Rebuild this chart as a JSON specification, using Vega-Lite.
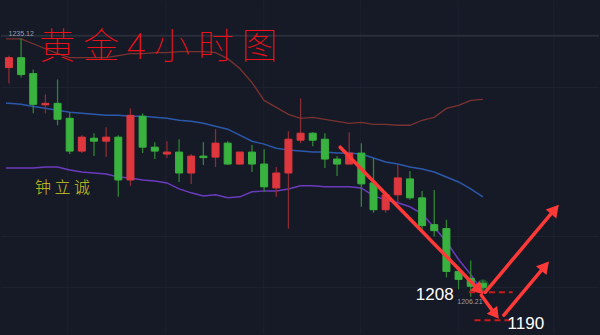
{
  "$schema": "https://vega.github.io/schema/vega-lite/v6.json",
  "width": 600,
  "height": 335,
  "padding": 0,
  "autosize": {"type": "fit", "contains": "padding"},
  "background": "#161a26",
  "view": {"stroke": null},
  "datasets": {
    "candles": [
      {"t":1,"o":1231.84,"h":1233.17,"l":1230.06,"c":1232.95},
      {"t":2,"o":1232.95,"h":1235.12,"l":1230.73,"c":1231.06},
      {"t":3,"o":1231.17,"h":1231.62,"l":1226.72,"c":1227.73},
      {"t":4,"o":1227.67,"h":1228.84,"l":1226.72,"c":1227.84},
      {"t":5,"o":1227.84,"h":1230.51,"l":1225.39,"c":1226.06},
      {"t":6,"o":1226.17,"h":1226.84,"l":1222.17,"c":1222.50},
      {"t":7,"o":1222.50,"h":1224.28,"l":1222.28,"c":1224.06},
      {"t":8,"o":1223.94,"h":1224.50,"l":1221.94,"c":1223.61},
      {"t":9,"o":1223.61,"h":1225.17,"l":1221.83,"c":1224.06},
      {"t":10,"o":1224.06,"h":1224.28,"l":1217.38,"c":1219.27},
      {"t":11,"o":1219.27,"h":1227.28,"l":1218.61,"c":1226.50},
      {"t":12,"o":1226.39,"h":1226.72,"l":1222.28,"c":1222.94},
      {"t":13,"o":1222.94,"h":1223.50,"l":1221.61,"c":1222.50},
      {"t":14,"o":1222.17,"h":1223.61,"l":1221.72,"c":1222.39},
      {"t":15,"o":1222.39,"h":1223.83,"l":1219.05,"c":1220.05},
      {"t":16,"o":1220.05,"h":1222.17,"l":1218.83,"c":1221.94},
      {"t":17,"o":1221.94,"h":1223.50,"l":1220.94,"c":1221.77},
      {"t":18,"o":1221.83,"h":1224.95,"l":1220.72,"c":1223.39},
      {"t":19,"o":1223.39,"h":1223.61,"l":1220.94,"c":1221.05},
      {"t":20,"o":1221.05,"h":1222.39,"l":1220.94,"c":1222.39},
      {"t":21,"o":1222.39,"h":1223.17,"l":1220.16,"c":1221.05},
      {"t":22,"o":1221.05,"h":1222.72,"l":1217.94,"c":1218.50},
      {"t":23,"o":1218.38,"h":1220.72,"l":1217.38,"c":1220.05},
      {"t":24,"o":1220.05,"h":1224.72,"l":1213.83,"c":1223.83},
      {"t":25,"o":1223.72,"h":1228.39,"l":1223.39,"c":1224.50},
      {"t":26,"o":1224.50,"h":1224.61,"l":1223.05,"c":1223.72},
      {"t":27,"o":1223.83,"h":1224.50,"l":1220.61,"c":1221.61},
      {"t":28,"o":1221.61,"h":1221.94,"l":1219.72,"c":1221.05},
      {"t":29,"o":1221.05,"h":1224.61,"l":1221.05,"c":1222.28},
      {"t":30,"o":1222.28,"h":1223.39,"l":1216.27,"c":1218.83},
      {"t":31,"o":1218.94,"h":1221.72,"l":1215.60,"c":1215.94},
      {"t":32,"o":1215.94,"h":1217.83,"l":1215.60,"c":1217.61},
      {"t":33,"o":1217.61,"h":1220.94,"l":1216.72,"c":1219.50},
      {"t":34,"o":1219.39,"h":1220.27,"l":1217.05,"c":1217.27},
      {"t":35,"o":1217.27,"h":1218.05,"l":1213.71,"c":1214.16},
      {"t":36,"o":1214.27,"h":1218.16,"l":1212.94,"c":1213.60},
      {"t":37,"o":1213.83,"h":1214.83,"l":1208.38,"c":1209.04},
      {"t":38,"o":1209.04,"h":1209.60,"l":1207.04,"c":1208.15},
      {"t":39,"o":1208.27,"h":1210.27,"l":1206.21,"c":1207.38},
      {"t":40,"o":1207.71,"h":1208.04,"l":1206.82,"c":1207.26}
    ],
    "bands": [
      {"t":0.76,"u":1235.06,"m":1227.84,"lo":1220.61},
      {"t":1,"u":1235.06,"m":1227.84,"lo":1220.61},
      {"t":2,"u":1235.06,"m":1227.73,"lo":1220.61},
      {"t":3,"u":1234.51,"m":1227.50,"lo":1220.61},
      {"t":4,"u":1233.95,"m":1227.28,"lo":1220.72},
      {"t":5,"u":1233.40,"m":1227.06,"lo":1220.72},
      {"t":6,"u":1232.95,"m":1226.84,"lo":1220.39},
      {"t":7,"u":1232.95,"m":1226.72,"lo":1220.16},
      {"t":8,"u":1232.95,"m":1226.61,"lo":1220.05},
      {"t":9,"u":1232.95,"m":1226.50,"lo":1219.94},
      {"t":10,"u":1233.17,"m":1226.50,"lo":1219.61},
      {"t":11,"u":1233.40,"m":1226.39,"lo":1219.50},
      {"t":12,"u":1233.40,"m":1226.39,"lo":1219.27},
      {"t":13,"u":1233.51,"m":1226.28,"lo":1219.16},
      {"t":14,"u":1233.51,"m":1226.17,"lo":1218.94},
      {"t":15,"u":1233.62,"m":1225.95,"lo":1218.27},
      {"t":16,"u":1233.62,"m":1225.83,"lo":1217.83},
      {"t":17,"u":1233.62,"m":1225.61,"lo":1217.49},
      {"t":18,"u":1233.51,"m":1225.28,"lo":1217.61},
      {"t":19,"u":1232.84,"m":1224.95,"lo":1217.27},
      {"t":20,"u":1231.73,"m":1224.28,"lo":1217.38},
      {"t":21,"u":1230.17,"m":1223.61,"lo":1217.94},
      {"t":22,"u":1228.17,"m":1223.28,"lo":1218.05},
      {"t":23,"u":1227.39,"m":1222.83,"lo":1218.05},
      {"t":24,"u":1226.61,"m":1222.61,"lo":1218.27},
      {"t":25,"u":1226.17,"m":1222.50,"lo":1218.61},
      {"t":26,"u":1226.28,"m":1222.39,"lo":1218.61},
      {"t":27,"u":1226.06,"m":1222.39,"lo":1218.50},
      {"t":28,"u":1225.83,"m":1222.28,"lo":1218.50},
      {"t":29,"u":1225.61,"m":1222.28,"lo":1218.50},
      {"t":30,"u":1225.72,"m":1222.17,"lo":1218.38},
      {"t":31,"u":1225.50,"m":1221.72,"lo":1217.49},
      {"t":32,"u":1225.50,"m":1221.28,"lo":1217.05},
      {"t":33,"u":1225.39,"m":1221.05,"lo":1216.72},
      {"t":34,"u":1225.39,"m":1220.72,"lo":1216.27},
      {"t":35,"u":1225.95,"m":1220.50,"lo":1215.49},
      {"t":36,"u":1226.28,"m":1220.16,"lo":1213.94},
      {"t":37,"u":1227.28,"m":1219.61,"lo":1212.38},
      {"t":38,"u":1227.61,"m":1219.05,"lo":1210.38},
      {"t":39,"u":1228.17,"m":1218.27,"lo":1208.71},
      {"t":40,"u":1228.28,"m":1217.38,"lo":1206.71}
    ],
    "gridx": [{"t":5.84},{"t":13.90},{"t":21.97},{"t":29.95},{"t":38.02},{"t":45.84}],
    "gridy": [{"p":1229.62},{"p":1212.94},{"p":1207.26}],
    "topline": [{"p":1235.40}],
    "arrows": [
      {"a":"a1","k":0,"t":28.26,"p":1222.94},
      {"a":"a1","k":1,"t":39.55,"p":1207.15},
      {"a":"a2","k":0,"t":40.19,"p":1206.71},
      {"a":"a2","k":1,"t":45.76,"p":1215.72},
      {"a":"a3","k":0,"t":39.87,"p":1206.37},
      {"a":"a3","k":1,"t":41.0,"p":1204.26},
      {"a":"a4","k":0,"t":41.73,"p":1204.15},
      {"a":"a4","k":1,"t":44.95,"p":1209.38}
    ],
    "heads": [
      {"a":"a1","t":39.69,"p":1206.96},
      {"a":"a2","t":45.93,"p":1215.98},
      {"a":"a3","t":41.03,"p":1204.24},
      {"a":"a4","t":45.12,"p":1209.64}
    ],
    "dashes": [
      {"t1":38.85,"t2":42.45,"p":1206.71},
      {"t1":39.31,"t2":42.37,"p":1203.59}
    ],
    "title": [{"txt":"黄 金 4 小 时 图","t":13.3,"p":1234.0}],
    "sig": [{"txt":"钟 立 诚","t":5.40,"p":1218.38}],
    "big": [
      {"txt":"1208","t":36.04,"p":1206.37},
      {"txt":"1190","t":43.54,"p":1203.21}
    ],
    "small": [
      {"txt":"1235.12","t":2.01,"p":1235.62},
      {"txt":"1206.21","t":38.94,"p":1205.60}
    ],
    "glow": [{"t":40,"p":1207.45}]
  },
  "layer": [
    {
      "data": {"name": "gridx"},
      "mark": {"type": "rule", "color": "#1d2130", "strokeWidth": 1},
      "encoding": {
        "x": {"field": "t", "type": "quantitative", "axis": null, "scale": {"domain": [0.758, 49.145], "nice": false, "zero": false}}
      }
    },
    {
      "data": {"name": "gridy"},
      "mark": {"type": "rule", "color": "#1f2331", "strokeWidth": 1},
      "encoding": {
        "y": {"field": "p", "type": "quantitative", "axis": null, "scale": {"domain": [1202.04, 1239.29], "nice": false, "zero": false}}
      }
    },
    {
      "data": {"name": "topline"},
      "mark": {"type": "rule", "color": "#2a2e3b", "strokeWidth": 2},
      "encoding": {
        "y": {"field": "p", "type": "quantitative", "axis": null, "scale": {"domain": [1202.04, 1239.29], "nice": false, "zero": false}}
      }
    },
    {
      "data": {"name": "bands"},
      "mark": {"type": "line", "color": "#7a3330", "strokeWidth": 1.3},
      "encoding": {
        "x": {"field": "t", "type": "quantitative", "axis": null, "scale": {"domain": [0.758, 49.145], "nice": false, "zero": false}},
        "y": {"field": "u", "type": "quantitative", "axis": null, "scale": {"domain": [1202.04, 1239.29], "nice": false, "zero": false}}
      }
    },
    {
      "data": {"name": "bands"},
      "mark": {"type": "line", "color": "#2c58ab", "strokeWidth": 1.5},
      "encoding": {
        "x": {"field": "t", "type": "quantitative", "axis": null, "scale": {"domain": [0.758, 49.145], "nice": false, "zero": false}},
        "y": {"field": "m", "type": "quantitative", "axis": null, "scale": {"domain": [1202.04, 1239.29], "nice": false, "zero": false}}
      }
    },
    {
      "data": {"name": "bands"},
      "mark": {"type": "line", "color": "#6b3bbf", "strokeWidth": 1.5},
      "encoding": {
        "x": {"field": "t", "type": "quantitative", "axis": null, "scale": {"domain": [0.758, 49.145], "nice": false, "zero": false}},
        "y": {"field": "lo", "type": "quantitative", "axis": null, "scale": {"domain": [1202.04, 1239.29], "nice": false, "zero": false}}
      }
    },
    {
      "data": {"name": "glow"},
      "mark": {"type": "point", "shape": "circle", "filled": true, "color": "#3cff55", "opacity": 0.22, "size": 160},
      "encoding": {
        "x": {"field": "t", "type": "quantitative", "axis": null, "scale": {"domain": [0.758, 49.145], "nice": false, "zero": false}},
        "y": {"field": "p", "type": "quantitative", "axis": null, "scale": {"domain": [1202.04, 1239.29], "nice": false, "zero": false}}
      }
    },
    {
      "data": {"name": "candles"},
      "mark": {"type": "rule", "strokeWidth": 1.3},
      "encoding": {
        "x": {"field": "t", "type": "quantitative", "axis": null, "scale": {"domain": [0.758, 49.145], "nice": false, "zero": false}},
        "y": {"field": "l", "type": "quantitative", "axis": null, "scale": {"domain": [1202.04, 1239.29], "nice": false, "zero": false}},
        "y2": {"field": "h"},
        "color": {"condition": {"test": "datum.c >= datum.o", "value": "#8a2c33"}, "value": "#2f8434"}
      }
    },
    {
      "data": {"name": "candles"},
      "mark": {"type": "bar", "width": 7, "strokeWidth": 1},
      "encoding": {
        "x": {"field": "t", "type": "quantitative", "axis": null, "scale": {"domain": [0.758, 49.145], "nice": false, "zero": false}},
        "y": {"field": "o", "type": "quantitative", "axis": null, "scale": {"domain": [1202.04, 1239.29], "nice": false, "zero": false}},
        "y2": {"field": "c"},
        "color": {"condition": {"test": "datum.c >= datum.o", "value": "#df373e"}, "value": "#39b23f"},
        "stroke": {"condition": {"test": "datum.c >= datum.o", "value": "#df373e"}, "value": "#39b23f"}
      }
    },
    {
      "data": {"name": "dashes"},
      "mark": {"type": "rule", "color": "#cc1a1a", "strokeWidth": 2, "strokeDash": [6, 4]},
      "encoding": {
        "x": {"field": "t1", "type": "quantitative", "axis": null, "scale": {"domain": [0.758, 49.145], "nice": false, "zero": false}},
        "x2": {"field": "t2"},
        "y": {"field": "p", "type": "quantitative", "axis": null, "scale": {"domain": [1202.04, 1239.29], "nice": false, "zero": false}}
      }
    },
    {
      "data": {"name": "arrows"},
      "mark": {"type": "line", "color": "#ff3838", "strokeWidth": 3.5, "strokeCap": "round"},
      "encoding": {
        "x": {"field": "t", "type": "quantitative", "axis": null, "scale": {"domain": [0.758, 49.145], "nice": false, "zero": false}},
        "y": {"field": "p", "type": "quantitative", "axis": null, "scale": {"domain": [1202.04, 1239.29], "nice": false, "zero": false}},
        "detail": {"field": "a"},
        "order": {"field": "k"}
      }
    },
    {
      "data": {"name": "heads"},
      "transform": [{"filter": "datum.a == 'a1'"}],
      "mark": {"type": "point", "shape": "triangle-up", "filled": true, "color": "#ff3838", "opacity": 1, "size": 190, "angle": 135.4},
      "encoding": {
        "x": {"field": "t", "type": "quantitative", "axis": null, "scale": {"domain": [0.758, 49.145], "nice": false, "zero": false}},
        "y": {"field": "p", "type": "quantitative", "axis": null, "scale": {"domain": [1202.04, 1239.29], "nice": false, "zero": false}}
      }
    },
    {
      "data": {"name": "heads"},
      "transform": [{"filter": "datum.a == 'a2'"}],
      "mark": {"type": "point", "shape": "triangle-up", "filled": true, "color": "#ff3838", "opacity": 1, "size": 190, "angle": 40.4},
      "encoding": {
        "x": {"field": "t", "type": "quantitative", "axis": null, "scale": {"domain": [0.758, 49.145], "nice": false, "zero": false}},
        "y": {"field": "p", "type": "quantitative", "axis": null, "scale": {"domain": [1202.04, 1239.29], "nice": false, "zero": false}}
      }
    },
    {
      "data": {"name": "heads"},
      "transform": [{"filter": "datum.a == 'a3'"}],
      "mark": {"type": "point", "shape": "triangle-up", "filled": true, "color": "#ff3838", "opacity": 1, "size": 170, "angle": 143.1},
      "encoding": {
        "x": {"field": "t", "type": "quantitative", "axis": null, "scale": {"domain": [0.758, 49.145], "nice": false, "zero": false}},
        "y": {"field": "p", "type": "quantitative", "axis": null, "scale": {"domain": [1202.04, 1239.29], "nice": false, "zero": false}}
      }
    },
    {
      "data": {"name": "heads"},
      "transform": [{"filter": "datum.a == 'a4'"}],
      "mark": {"type": "point", "shape": "triangle-up", "filled": true, "color": "#ff3838", "opacity": 1, "size": 190, "angle": 40.4},
      "encoding": {
        "x": {"field": "t", "type": "quantitative", "axis": null, "scale": {"domain": [0.758, 49.145], "nice": false, "zero": false}},
        "y": {"field": "p", "type": "quantitative", "axis": null, "scale": {"domain": [1202.04, 1239.29], "nice": false, "zero": false}}
      }
    },
    {
      "data": {"name": "title"},
      "mark": {"type": "text", "font": "'Noto Sans CJK SC Thin', 'Noto Sans CJK SC Light', 'Noto Sans CJK SC DemiLight', 'Noto Sans CJK SC'", "fontSize": 36, "fontWeight": 100, "color": "#f01018", "align": "center", "baseline": "middle"},
      "encoding": {
        "x": {"field": "t", "type": "quantitative", "axis": null, "scale": {"domain": [0.758, 49.145], "nice": false, "zero": false}},
        "y": {"field": "p", "type": "quantitative", "axis": null, "scale": {"domain": [1202.04, 1239.29], "nice": false, "zero": false}},
        "text": {"field": "txt"}
      }
    },
    {
      "data": {"name": "sig"},
      "mark": {"type": "text", "font": "'Noto Sans CJK SC Light', 'Noto Sans CJK SC DemiLight', 'Noto Sans CJK SC'", "fontSize": 16, "fontWeight": 300, "color": "#cdc81e", "align": "center", "baseline": "middle"},
      "encoding": {
        "x": {"field": "t", "type": "quantitative", "axis": null, "scale": {"domain": [0.758, 49.145], "nice": false, "zero": false}},
        "y": {"field": "p", "type": "quantitative", "axis": null, "scale": {"domain": [1202.04, 1239.29], "nice": false, "zero": false}},
        "text": {"field": "txt"}
      }
    },
    {
      "data": {"name": "big"},
      "mark": {"type": "text", "font": "Liberation Sans", "fontSize": 17, "color": "#ffffff", "align": "center", "baseline": "middle"},
      "encoding": {
        "x": {"field": "t", "type": "quantitative", "axis": null, "scale": {"domain": [0.758, 49.145], "nice": false, "zero": false}},
        "y": {"field": "p", "type": "quantitative", "axis": null, "scale": {"domain": [1202.04, 1239.29], "nice": false, "zero": false}},
        "text": {"field": "txt"}
      }
    },
    {
      "data": {"name": "small"},
      "mark": {"type": "text", "font": "Liberation Sans", "fontSize": 7, "color": "#9a9ea8", "align": "center", "baseline": "middle"},
      "encoding": {
        "x": {"field": "t", "type": "quantitative", "axis": null, "scale": {"domain": [0.758, 49.145], "nice": false, "zero": false}},
        "y": {"field": "p", "type": "quantitative", "axis": null, "scale": {"domain": [1202.04, 1239.29], "nice": false, "zero": false}},
        "text": {"field": "txt"}
      }
    }
  ]
}
